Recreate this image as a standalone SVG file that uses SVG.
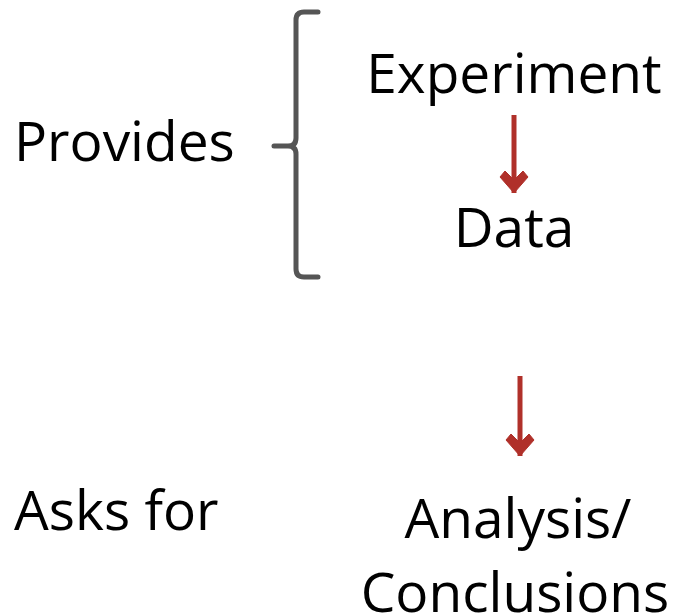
<svg xmlns="http://www.w3.org/2000/svg" width="674" height="615" viewBox="0 0 674 615">
<style>
text{font-family:"Open Sans","Liberation Sans",sans-serif;font-size:55px;fill:#000}
.arrow{stroke:#b0302a;stroke-width:5;fill:none}
.bracket{stroke:#555;stroke-width:5;fill:none;stroke-linecap:round}
</style>
<defs>
<marker id="ah" viewBox="-15 -26 30 28" refX="0" refY="0" markerWidth="30" markerHeight="28" orient="0" markerUnits="userSpaceOnUse" overflow="visible">
<path d="M-14,-16 L-9,-22 L0,-13 L9,-22 L14,-16 L0,0 Z" fill="#b0302a" stroke="#b0302a" stroke-width="1" stroke-linejoin="round"/>
</marker>
</defs>
<g id="provides"><text x="14" y="161">Provides</text></g>
<g id="bracket"><path class="bracket" d="M318,12 L304,12 Q296,12 296,20 L296,138 Q296,146 288,146 L274,146 M288,146 Q296,146 296,154 L296,269 Q296,277 304,277 L318,277"/></g>
<g id="experiment"><text x="514" y="93" text-anchor="middle">Experiment</text></g>
<g id="data"><text x="514" y="247" text-anchor="middle">Data</text></g>
<g id="asks"><text x="14" y="530">Asks for</text></g>
<g id="analysis"><text x="518" y="538" text-anchor="middle">Analysis/</text><text x="515" y="612" text-anchor="middle">Conclusions</text></g>
<g id="connectors">
<line class="arrow" x1="514" y1="115" x2="514" y2="193" marker-end="url(#ah)"/>
<line class="arrow" x1="520" y1="376" x2="520" y2="456" marker-end="url(#ah)"/>
</g>
</svg>
